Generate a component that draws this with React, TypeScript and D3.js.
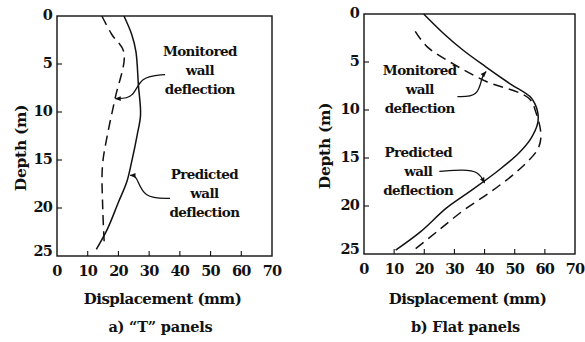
import React from "react";
import * as d3 from "d3";

// Depth (m) for each sampled point, with displacement (mm)
const tPredDepth = [0, 1.9, 3.7, 7.2, 10.3, 12.4, 15.2, 17.3, 19.4, 22.2, 24.3];
const tPredDisp = [21.8, 24.3, 25.7, 26.5, 27.2, 26.1, 24.3, 22.7, 20.0, 16.4, 12.8];
const tMonDepth = [0, 1.9, 3.8, 8.6, 12.4, 15.6, 20.1, 23.8];
const tMonDisp = [14.6, 17.8, 21.8, 18.9, 16.4, 14.8, 14.9, 15.4];

const fPredDepth = [0, 2.0, 3.75, 5.5, 7.3, 8.75, 10.2, 11.4, 13, 14.5, 16.25, 18.4, 20.2, 22.7, 24.6];
const fPredDisp = [19.8, 26.3, 32.8, 40.4, 48.6, 55.5, 57.6, 57.6, 55.3, 51.3, 44.8, 35.5, 27.4, 18.7, 10.5];
const fMonDepth = [1.8, 3.4, 5.2, 7, 8.75, 10.2, 12.7, 14.1, 16.25, 18.4, 20.5, 22.7, 24.6];
const fMonDisp = [17, 20.9, 29.6, 40.4, 54.6, 57, 58.7, 57.6, 51.3, 42.6, 32.8, 24.1, 16.5];

const xTicks = [0, 10, 20, 30, 40, 50, 60, 70];
const yTicks = [0, 5, 10, 15, 20, 25];

const FONT = "'DejaVu Serif', serif";

type Pt = [number, number];

interface PanelProps {
  left: number;
  right: number;
  top: number;
  bottom: number;
  pred: Pt[];
  mon: Pt[];
  monText: { x: number; d: number };
  predText: { x: number; d: number };
  monArrow: Pt[];
  predArrow: Pt[];
  xLabelY: number;
  caption: string;
  depthX: number;
  id: string;
}

function Panel(p: PanelProps) {
  const x = d3.scaleLinear().domain([0, 70]).range([p.left, p.right]);
  const y = d3.scaleLinear().domain([0, 25]).range([p.top, p.bottom]);
  const line = d3
    .line<Pt>()
    .x((d) => x(d[0]))
    .y((d) => y(d[1]))
    .curve(d3.curveCatmullRom.alpha(0.5));
  const arrowLine = d3
    .line<Pt>()
    .x((d) => x(d[0]))
    .y((d) => y(d[1]))
    .curve(d3.curveBasis);
  const cx = (p.left + p.right) / 2;
  const labelLines = (t: { x: number; d: number }, first: string) =>
    [first, "wall", "deflection"].map((s, i) => (
      <text
        key={s}
        x={x(t.x)}
        y={y(t.d) + i * 19}
        textAnchor="middle"
        dominantBaseline="middle"
        fontSize={13.5}
        fontWeight="bold"
        letterSpacing={-0.6}
      >
        {s}
      </text>
    ));
  return (
    <g fontFamily={FONT} fill="#111">
      <rect
        x={p.left}
        y={p.top}
        width={p.right - p.left}
        height={p.bottom - p.top}
        fill="none"
        stroke="#111"
        strokeWidth={1.4}
      />
      {xTicks.slice(1, -1).map((t) => (
        <line key={t} x1={x(t)} x2={x(t)} y1={p.bottom} y2={p.bottom - 5} stroke="#111" strokeWidth={1.1} />
      ))}
      {yTicks.slice(1, -1).map((t) => (
        <line key={t} x1={p.left} x2={p.left + 5} y1={y(t)} y2={y(t)} stroke="#111" strokeWidth={1.1} />
      ))}
      {xTicks.map((t) => (
        <text
          key={t}
          x={x(t)}
          y={p.bottom + 16}
          textAnchor="middle"
          dominantBaseline="middle"
          fontSize={14.5}
          fontWeight="bold"
          letterSpacing={-0.8}
        >
          {t}
        </text>
      ))}
      {yTicks.map((t) => (
        <text
          key={t}
          x={p.left - 5}
          y={t === 25 ? y(t) - 4 : y(t)}
          textAnchor="end"
          dominantBaseline="middle"
          fontSize={14.5}
          fontWeight="bold"
          letterSpacing={-0.8}
        >
          {t}
        </text>
      ))}
      <text
        transform={`translate(${p.depthX},${(p.top + p.bottom) / 2 + 12}) rotate(-90)`}
        textAnchor="middle"
        dominantBaseline="middle"
        fontSize={15.5}
        fontWeight="bold"
        letterSpacing={-0.3}
      >
        Depth (m)
      </text>
      <text
        x={cx - 2}
        y={p.xLabelY}
        textAnchor="middle"
        dominantBaseline="middle"
        fontSize={15}
        fontWeight="bold"
        letterSpacing={-0.5}
      >
        Displacement (mm)
      </text>
      <text
        x={cx - 4}
        y={p.xLabelY + 28}
        textAnchor="middle"
        dominantBaseline="middle"
        fontSize={14.5}
        fontWeight="bold"
        letterSpacing={-0.2}
      >
        {p.caption}
      </text>
      <path d={line(p.pred) || ""} fill="none" stroke="#111" strokeWidth={1.5} />
      <path d={line(p.mon) || ""} fill="none" stroke="#111" strokeWidth={1.5} strokeDasharray="10 6" />
      {labelLines(p.monText, "Monitored")}
      {labelLines(p.predText, "Predicted")}
      <path
        d={arrowLine(p.monArrow) || ""}
        fill="none"
        stroke="#111"
        strokeWidth={1.3}
        markerEnd={`url(#head-${p.id})`}
      />
      <path
        d={arrowLine(p.predArrow) || ""}
        fill="none"
        stroke="#111"
        strokeWidth={1.3}
        markerEnd={`url(#head-${p.id})`}
      />
      <defs>
        <marker
          id={`head-${p.id}`}
          viewBox="0 0 10 10"
          refX={9}
          refY={5}
          markerWidth={6}
          markerHeight={6}
          orient="auto"
          markerUnits="userSpaceOnUse"
        >
          <path d="M0,1 L10,5 L0,9 Z" fill="#111" />
        </marker>
      </defs>
    </g>
  );
}

export default function App() {
  const zip = (a: number[], b: number[]): Pt[] => a.map((v, i) => [v, b[i]]);
  return (
    <svg width={585} height={342} style={{ position: "absolute", left: 0, top: 0, background: "#fff" }}>
      <Panel
        id="a"
        left={57}
        right={272}
        top={16}
        bottom={256}
        pred={zip(tPredDisp, tPredDepth)}
        mon={zip(tMonDisp, tMonDepth)}
        monText={{ x: 46.5, d: 3.8 }}
        predText={{ x: 48, d: 16.6 }}
        monArrow={[
          [35.2, 6.1],
          [27, 6.3],
          [25, 8.6],
          [19, 8.6],
        ]}
        predArrow={[
          [36.8, 19.0],
          [28, 19.0],
          [26, 16.6],
          [23.8, 16.6],
        ]}
        xLabelY={300}
        caption={"a) \u201cT\u201d panels"}
        depthX={22}
      />
      <Panel
        id="b"
        left={364}
        right={575}
        top={14}
        bottom={254}
        pred={zip(fPredDisp, fPredDepth)}
        mon={zip(fMonDisp, fMonDepth)}
        monText={{ x: 18.5, d: 6.0 }}
        predText={{ x: 18, d: 14.5 }}
        monArrow={[
          [31, 8.6],
          [38, 8.6],
          [39, 6.5],
          [40.5, 6.0],
        ]}
        predArrow={[
          [25, 16.4],
          [33, 16.2],
          [38, 16.4],
          [40, 17.6],
        ]}
        xLabelY={300}
        caption="b) Flat panels"
        depthX={326}
      />
    </svg>
  );
}
